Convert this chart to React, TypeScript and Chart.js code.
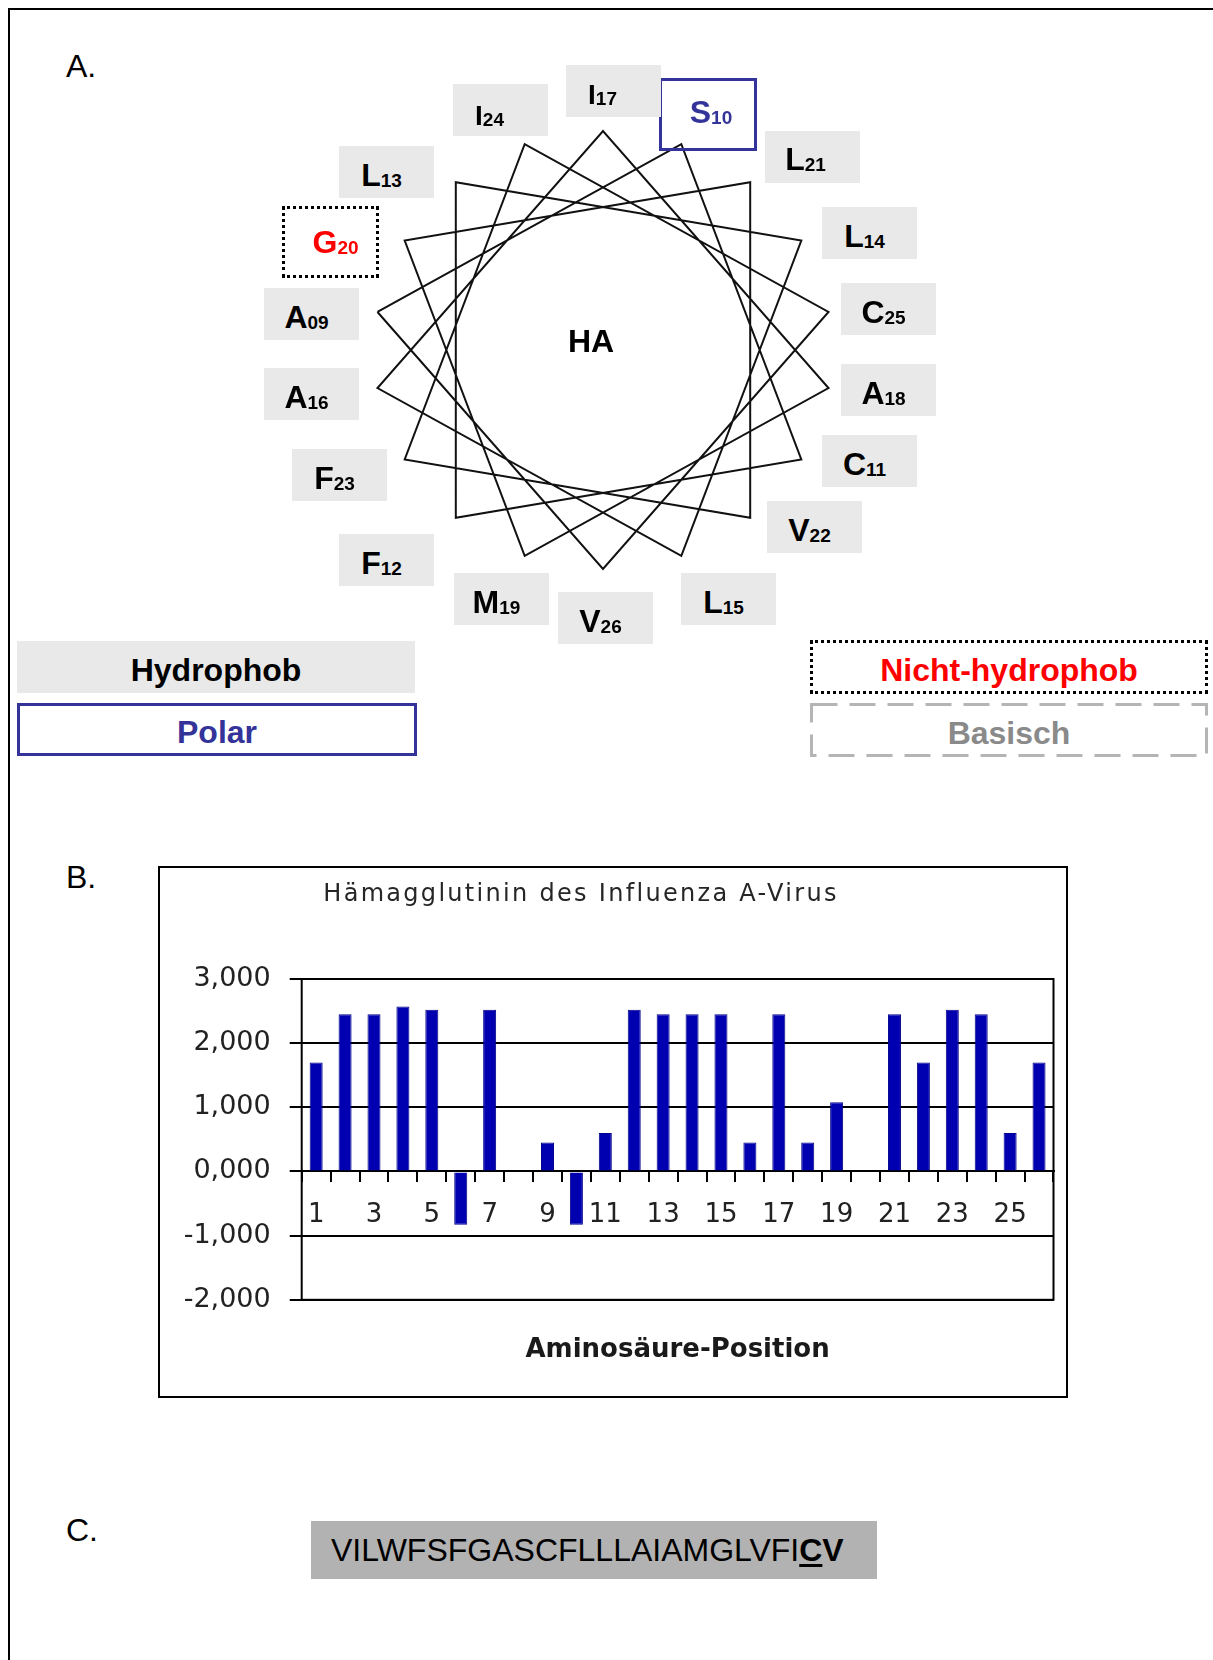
import React, { useEffect, useRef } from 'react';
import { Chart, registerables } from 'chart.js';

Chart.register(...registerables);

// ---------- Data: helical wheel (part A) ----------
const WHEEL_RESIDUES = ['A09', 'S10', 'C11', 'F12', 'L13', 'L14', 'L15', 'A16', 'I17', 'A18', 'M19', 'G20', 'L21', 'V22', 'F23', 'I24', 'C25', 'V26'];
// angle (degrees, counter-clockwise from +x) of each residue on the wheel
const WHEEL_ANGLES = [170, 70, -30, -130, 130, 30, -70, -170, 90, -10, -110, 150, 50, -50, -150, 110, 10, -90];
// h = hydrophob, p = polar, n = nicht-hydrophob
const WHEEL_CLASSES = ['h', 'p', 'h', 'h', 'h', 'h', 'h', 'h', 'h', 'h', 'h', 'n', 'h', 'h', 'h', 'h', 'h', 'h'];
const WHEEL_CENTER = 'HA';

const LEGEND_ITEMS = ['Hydrophob', 'Polar', 'Nicht-hydrophob', 'Basisch'];

// ---------- Data: hydrophobicity plot (part B) ----------
const POSITIONS = ['1', '2', '3', '4', '5', '6', '7', '8', '9', '10', '11', '12', '13', '14', '15', '16', '17', '18', '19', '20', '21', '22', '23', '24', '25', '26'];
const HYDROPHOBICITY = [1.70, 2.45, 2.45, 2.57, 2.52, -0.83, 2.52, 0, 0.45, -0.83, 0.60, 2.52, 2.45, 2.45, 2.45, 0.45, 2.45, 0.45, 1.08, 0, 2.45, 1.70, 2.52, 2.45, 0.60, 1.70];
const Y_TICK_VALUES = [-2, -1, 0, 1, 2, 3];
const CHART_TITLE = 'Hämagglutinin des Influenza A-Virus';
const X_AXIS_TITLE = 'Aminosäure-Position';

// ---------- Data: sequence (part C) ----------
const SEQUENCE_PLAIN = 'VILWFSFGASCFLLLAIAMGLVFI';
const SEQUENCE_BOLD_UNDERLINED = 'C';
const SEQUENCE_BOLD = 'V';

// ---------- Layout (positions / styles only) ----------
const FONT = '"Liberation Sans", Arial, Helvetica, sans-serif';
const CHART_FONT = '"DejaVu Sans", Verdana, sans-serif';

type LabelBox = { x: number; y: number; w: number; h: number; fs?: number; dx?: number; dy?: number };
const WHEEL_LABEL_BOXES: Record<string, LabelBox> = {
  A09: { x: 264, y: 288, w: 95, h: 52 },
  S10: { x: 659, y: 78, w: 98, h: 73, dx: 3, dy: -2 },
  C11: { x: 822, y: 435, w: 95, h: 52 },
  F12: { x: 339, y: 534, w: 95, h: 52 },
  L13: { x: 339, y: 146, w: 95, h: 52 },
  L14: { x: 822, y: 207, w: 95, h: 52 },
  L15: { x: 681, y: 573, w: 95, h: 52 },
  A16: { x: 264, y: 368, w: 95, h: 52 },
  I17: { x: 566, y: 65, w: 95, h: 52, fs: 28, dx: -11, dy: 3.5 },
  A18: { x: 841, y: 364, w: 95, h: 52 },
  M19: { x: 454, y: 573, w: 95, h: 52 },
  G20: { x: 282, y: 206, w: 97, h: 72, dx: 5, dy: 0 },
  L21: { x: 765, y: 131, w: 95, h: 52, dx: -7, dy: 2.5 },
  V22: { x: 767, y: 501, w: 95, h: 52 },
  F23: { x: 292, y: 449, w: 95, h: 52 },
  I24: { x: 453, y: 84, w: 95, h: 52, fs: 28, dx: -11, dy: 6 },
  C25: { x: 841, y: 283, w: 95, h: 52 },
  V26: { x: 558, y: 592, w: 95, h: 52 },
};

const BLUE = '#333399';
const GRAY_FILL = '#e9e9e9';

function Box(props: {
  x: number; y: number; w: number; h: number; style?: React.CSSProperties;
  dx?: number; dy?: number; children?: React.ReactNode; justify?: string;
}) {
  const { x, y, w, h, style, dx = 0, dy = 0, children, justify = 'center' } = props;
  return (
    <div
      style={{
        position: 'absolute', left: x, top: y, width: w, height: h, boxSizing: 'border-box',
        display: 'flex', alignItems: 'center', justifyContent: justify, fontFamily: FONT,
        whiteSpace: 'nowrap', ...style,
      }}
    >
      <span style={{ position: 'relative', left: dx, top: dy }}>{children}</span>
    </div>
  );
}

function WheelChart() {
  const ref = useRef<HTMLCanvasElement | null>(null);
  useEffect(() => {
    if (!ref.current) return;
    const pts = WHEEL_ANGLES.map((a) => ({ x: Math.cos((a * Math.PI) / 180), y: Math.sin((a * Math.PI) / 180) }));
    pts.push(pts[0]);
    const chart = new Chart(ref.current, {
      type: 'scatter',
      data: {
        datasets: [{
          data: pts, showLine: true, borderColor: '#111', borderWidth: 2,
          pointRadius: 0, tension: 0, fill: false,
        } as any],
      },
      options: {
        animation: false, responsive: true, maintainAspectRatio: false, events: [],
        layout: { padding: 0 },
        plugins: { legend: { display: false }, tooltip: { enabled: false } },
        scales: {
          x: { type: 'linear', display: false, min: -260 / 229, max: 260 / 229 },
          y: { type: 'linear', display: false, min: -260 / 219, max: 260 / 219 },
        },
      },
    });
    return () => chart.destroy();
  }, []);
  return (
    <div style={{ position: 'absolute', left: 343, top: 90, width: 520, height: 520 }}>
      <canvas ref={ref} />
    </div>
  );
}

const spacedTitle = {
  id: 'spacedTitle',
  afterDraw(chart: any) {
    const ctx = chart.ctx as CanvasRenderingContext2D;
    ctx.save();
    ctx.font = `24px ${CHART_FONT}`;
    (ctx as any).letterSpacing = '2.3px';
    ctx.fillStyle = '#262626';
    ctx.textAlign = 'center';
    ctx.textBaseline = 'alphabetic';
    ctx.fillText(CHART_TITLE, chart.width / 2, 33);
    ctx.restore();
  },
};

const plotFrame = {
  id: 'plotFrame',
  afterDraw(chart: any) {
    const { ctx, chartArea } = chart;
    ctx.save();
    ctx.strokeStyle = '#000';
    ctx.lineWidth = 2;
    ctx.strokeRect(chartArea.left, chartArea.top, chartArea.right - chartArea.left, chartArea.bottom - chartArea.top);
    ctx.restore();
  },
};

function HydroChart() {
  const ref = useRef<HTMLCanvasElement | null>(null);
  useEffect(() => {
    if (!ref.current) return;
    const chart = new Chart(ref.current, {
      type: 'bar',
      data: {
        labels: POSITIONS,
        datasets: [{
          data: HYDROPHOBICITY, backgroundColor: '#0000b0', borderColor: '#00008a', borderWidth: 1,
          barPercentage: 0.45, categoryPercentage: 1,
        }],
      },
      options: {
        animation: false, responsive: true, maintainAspectRatio: false, events: [],
        layout: { padding: { top: 111, right: 12.5, bottom: 0, left: 0 } },
        plugins: {
          legend: { display: false },
          tooltip: { enabled: false },
          title: { display: false },
          subtitle: {
            display: true, text: X_AXIS_TITLE, position: 'bottom', fullSize: false,
            color: '#1a1a1a', font: { family: CHART_FONT, size: 26, weight: 'bold' },
            padding: { top: 35, bottom: 30 },
          },
        },
        scales: {
          x: {
            position: { y: 0 } as any,
            grid: { display: true, drawOnChartArea: false, drawTicks: true, tickLength: 10, color: '#000', lineWidth: 2, offset: true },
            border: { display: true, color: '#000', width: 2 },
            ticks: {
              autoSkip: false, maxRotation: 0, minRotation: 0, padding: 18, color: '#222',
              font: { family: CHART_FONT, size: 26 },
              callback: (_v: any, i: number) => (i % 2 === 0 ? POSITIONS[i] : ''),
            },
            afterFit: (s: any) => { s.height = 0; },
          },
          y: {
            min: -2, max: 3,
            afterBuildTicks: (s: any) => { s.ticks = Y_TICK_VALUES.map((v) => ({ value: v })); },
            ticks: {
              padding: 19, color: '#222', font: { family: CHART_FONT, size: 27 },
              callback: (v: any) => Number(v).toFixed(3).replace('.', ','),
            },
            grid: { color: '#000', lineWidth: 2, tickLength: 12, drawTicks: true },
            border: { display: false },
            afterFit: (s: any) => { s.width = 205.7; },
          },
        },
      },
      plugins: [spacedTitle, plotFrame],
    });
    return () => chart.destroy();
  }, []);
  return (
    <>
      <div style={{ position: 'absolute', left: 158, top: 866, width: 910, height: 532, border: '2px solid #000', boxSizing: 'border-box' }} />
      <div style={{ position: 'absolute', left: 96, top: 868, width: 970, height: 528 }}>
        <canvas ref={ref} />
      </div>
    </>
  );
}

function WheelLabel({ residue, cls }: { residue: string; cls: string }) {
  const b = WHEEL_LABEL_BOXES[residue];
  const letter = residue.slice(0, 1);
  const num = residue.slice(1);
  let style: React.CSSProperties = { background: GRAY_FILL, color: '#000' };
  if (cls === 'p') style = { border: `3px solid ${BLUE}`, color: BLUE };
  if (cls === 'n') style = { border: '3px dotted #000', color: '#ff0000' };
  return (
    <Box x={b.x} y={b.y} w={b.w} h={b.h} dx={b.dx ?? -5} dy={b.dy ?? 3}
      style={{ ...style, fontWeight: 'bold', fontSize: b.fs ?? 32 }}>
      {letter}<span style={{ fontSize: 19, position: 'relative', top: 1 }}>{num}</span>
    </Box>
  );
}

export default function App() {
  const legendText: React.CSSProperties = { fontWeight: 'bold', fontSize: 32 };
  return (
    <div style={{ position: 'fixed', left: 0, top: 0, width: 1213, height: 1660, overflow: 'hidden', background: '#fff' }}>
      {/* document frame */}
      <div style={{ position: 'absolute', left: 8, top: 8, width: 1400, height: 1800, borderLeft: '2px solid #000', borderTop: '2px solid #000' }} />

      {/* section letters */}
      <div style={{ position: 'absolute', left: 66, top: 49.6, fontFamily: FONT, fontSize: 32, lineHeight: '32px' }}>A.</div>
      <div style={{ position: 'absolute', left: 66, top: 861, fontFamily: FONT, fontSize: 32, lineHeight: '32px' }}>B.</div>
      <div style={{ position: 'absolute', left: 66, top: 1514, fontFamily: FONT, fontSize: 32, lineHeight: '32px' }}>C.</div>

      {/* part A: helical wheel */}
      <WheelChart />
      {WHEEL_RESIDUES.map((r, i) => <WheelLabel key={r} residue={r} cls={WHEEL_CLASSES[i]} />)}
      <Box x={541} y={321} w={100} h={40} style={{ fontWeight: 'bold', fontSize: 32 }}>{WHEEL_CENTER}</Box>

      {/* legend */}
      <Box x={17} y={641} w={398} h={52} dy={3} style={{ ...legendText, background: GRAY_FILL, color: '#000' }}>{LEGEND_ITEMS[0]}</Box>
      <Box x={17} y={703} w={400} h={53} dy={3} style={{ ...legendText, border: `3px solid ${BLUE}`, color: BLUE }}>{LEGEND_ITEMS[1]}</Box>
      <Box x={810} y={640} w={398} h={54} dy={3} style={{ ...legendText, border: '3px dotted #000', color: '#ff0000' }}>{LEGEND_ITEMS[2]}</Box>
      <svg style={{ position: 'absolute', left: 810, top: 703 }} width={398} height={54}>
        <rect x={1.5} y={1.5} width={395} height={51} fill="none" stroke="#b5b5b5" strokeWidth={3} strokeDasharray="26 12" />
      </svg>
      <Box x={810} y={703} w={398} h={54} dy={3} style={{ ...legendText, color: '#8a8a8a' }}>{LEGEND_ITEMS[3]}</Box>

      {/* part B: chart */}
      <HydroChart />

      {/* part C: sequence */}
      <Box x={311} y={1521} w={566} h={58} justify="flex-start" style={{ background: '#b2b2b2', paddingLeft: 20, fontSize: 32, color: '#000' }}>
        {SEQUENCE_PLAIN}
        <span style={{ fontWeight: 'bold' }}>
          <span style={{ textDecoration: 'underline', textDecorationThickness: '3px', textUnderlineOffset: '3px' }}>{SEQUENCE_BOLD_UNDERLINED}</span>
          {SEQUENCE_BOLD}
        </span>
      </Box>
    </div>
  );
}
